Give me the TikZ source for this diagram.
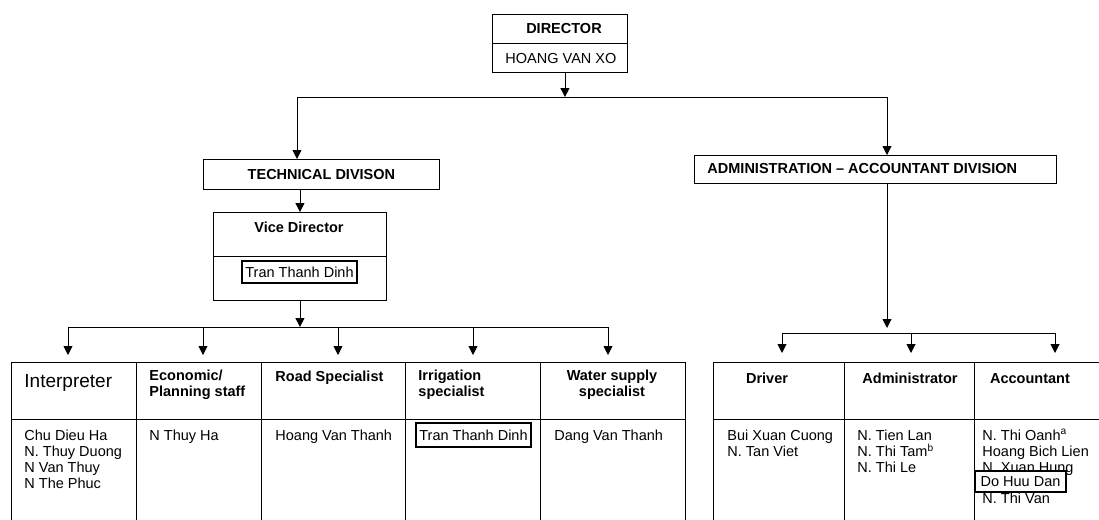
\documentclass[tikz,border=0pt]{standalone}
\usepackage{fontspec}
\setmainfont{Liberation Sans}
\usetikzlibrary{arrows.meta}

\begin{document}
\begin{tikzpicture}[
    x=1pt, y=-1pt,
    font=\fontsize{14.5}{16.3}\selectfont,
    every node/.style={inner sep=0pt},
    line width=0.9pt,
    cell/.style={draw, anchor=north west},
    hdr/.style={font=\fontsize{14.5}{16.3}\selectfont\bfseries},
    who/.style={anchor=base west},
    tagbox/.style={draw, line width=1.2pt, fill=white},
    arr/.style={-{Triangle[length=9pt,width=9pt]}},
]
\useasboundingbox (0,0) rectangle (1099,519);
\clip (0,0) rectangle (1099,519);

% ---- column x-coordinates ----
\def\xA{11}     % Interpreter
\def\xB{136}    % Economic / Planning
\def\xC{261}    % Road
\def\xD{405}    % Irrigation
\def\xE{540}    % Water supply
\def\xF{685}    % end of left table
\def\xG{713}    % Driver
\def\xH{844}    % Administrator
\def\xI{974}    % Accountant

% ---- row y-coordinates ----
\def\yt{362}    % table top
\def\ym{419}    % header / names divider
\def\ya{440}    % name line 1
\def\yb{456.3}  % name line 2
\def\yc{472.6}  % name line 3
\def\yd{488.9}  % name line 4
\def\ye{503.5}  % name line 5

% ---- director ----
\node[cell, minimum width=135pt, minimum height=29pt] (dirtop) at (492,14) {};
\node[cell, minimum width=135pt, minimum height=29pt] (dirbot) at (492,43) {};
\node[hdr] (dirlab) at (564,28.5) {DIRECTOR};
\node[anchor=west] (dirname) at (505,58.5) {HOANG VAN XO};

% ---- divisions ----
\node[cell, hdr, minimum width=236pt, minimum height=30pt] (tech) at (203,159) {TECHNICAL DIVISON};
\node[cell, minimum width=362pt, minimum height=28pt] (admin) at (694,155) {};
\node[hdr, anchor=west] (adminlab) at (707,169) {ADMINISTRATION – ACCOUNTANT DIVISION};

% ---- vice director ----
\node[cell, minimum width=173pt, minimum height=44pt] (vicetop) at (213,212) {};
\node[cell, minimum width=173pt, minimum height=44pt] (vicebot) at (213,256) {};
\node[hdr] (vicelab) at (299,227) {Vice Director};
\node[tagbox, minimum width=115pt, minimum height=22pt] (vicename) at (299.5,272) {Tran Thanh Dinh};

% ---- left table cells ----
\node[cell, minimum width=125pt, minimum height=57pt] (interp) at (\xA,\yt) {};
\node[cell, minimum width=125pt, minimum height=57pt] (econ)   at (\xB,\yt) {};
\node[cell, minimum width=144pt, minimum height=57pt] (road)   at (\xC,\yt) {};
\node[cell, minimum width=135pt, minimum height=57pt] (irrig)  at (\xD,\yt) {};
\node[cell, minimum width=145pt, minimum height=57pt] (water)  at (\xE,\yt) {};
\node[cell, minimum width=125pt, minimum height=130pt] (interpN) at (\xA,\ym) {};
\node[cell, minimum width=125pt, minimum height=130pt] (econN)   at (\xB,\ym) {};
\node[cell, minimum width=144pt, minimum height=130pt] (roadN)   at (\xC,\ym) {};
\node[cell, minimum width=135pt, minimum height=130pt] (irrigN)  at (\xD,\ym) {};
\node[cell, minimum width=145pt, minimum height=130pt] (waterN)  at (\xE,\ym) {};

% ---- right table cells ----
\node[cell, minimum width=131pt, minimum height=57pt] (driver) at (\xG,\yt) {};
\node[cell, minimum width=130pt, minimum height=57pt] (adm)    at (\xH,\yt) {};
\node[cell, minimum width=140pt, minimum height=57pt] (acc)    at (\xI,\yt) {};
\node[cell, minimum width=131pt, minimum height=130pt] (driverN) at (\xG,\ym) {};
\node[cell, minimum width=130pt, minimum height=130pt] (admN)    at (\xH,\ym) {};
\node[cell, minimum width=140pt, minimum height=130pt] (accN)    at (\xI,\ym) {};

% ---- left headers ----
\node[anchor=base west, font=\fontsize{19}{22}\selectfont] (interplab) at (24,387) {Interpreter};
\node[hdr, anchor=base west] (econlab1) at (149,380) {Economic/};
\node[hdr, anchor=base west] (econlab2) at (149,396.5) {Planning staff};
\node[hdr, anchor=base west] (roadlab) at (275,381) {Road Specialist};
\node[hdr, anchor=base west] (irriglab1) at (418,380) {Irrigation};
\node[hdr, anchor=base west] (irriglab2) at (418,396.5) {specialist};
\node[hdr, anchor=base] (waterlab1) at (612,380) {Water supply};
\node[hdr, anchor=base] (waterlab2) at (612,396.5) {specialist};

% ---- right headers ----
\node[hdr, anchor=base] (driverlab) at (767,383) {Driver};
\node[hdr, anchor=base] (admlab) at (910,383) {Administrator};
\node[hdr, anchor=base] (acclab) at (1030,383) {Accountant};

% ---- names, left table ----
\node[who] (n1) at (24,\ya) {Chu Dieu Ha};
\node[who] (n2) at (24,\yb) {N. Thuy Duong};
\node[who] (n3) at (24,\yc) {N Van Thuy};
\node[who] (n4) at (24,\yd) {N The Phuc};
\node[who] (n5) at (149,\ya) {N Thuy Ha};
\node[who] (n6) at (275,\ya) {Hoang Van Thanh};
\node[tagbox, minimum width=115pt, minimum height=24pt] (n7) at (473.5,435) {Tran Thanh Dinh};
\node[who] (n8) at (554,\ya) {Dang Van Thanh};

% ---- names, right table ----
\node[who] (m1) at (727,\ya) {Bui Xuan Cuong};
\node[who] (m2) at (727,\yb) {N. Tan Viet};
\node[who] (m3) at (857,\ya) {N. Tien Lan};
\node[who] (m4) at (857,\yb) {N. Thi Tam\textsuperscript{b}};
\node[who] (m5) at (857,\yc) {N. Thi Le};
\node[who] (m6) at (982,\ya) {N. Thi Oanh\textsuperscript{a}};
\node[who] (m7) at (982,\yb) {Hoang Bich Lien};
\node[who] (m8) at (982,\yc) {N. Xuan Hung};
\node[who] (m9) at (982,\ye) {N. Thi Van};
\node[tagbox, minimum width=91pt, minimum height=21pt] (m10) at (1020.5,481.5) {Do Huu Dan};

% ---- connectors, top ----
\coordinate (topL) at (297,97);
\coordinate (topR) at (887,97);
\coordinate (dirout) at ([xshift=5pt]dirbot.south);
\draw (topL) -- (topR);
\draw[arr] (dirout) -- (dirout |- topL);
\draw[arr] (topL) -- (topL |- tech.north);
\draw[arr] (topR) -- (topR |- admin.north);
\draw[arr] (tech.south -| vicetop.north) -- (vicetop.north);

% ---- connectors, technical staff ----
\coordinate (tbus1) at (68,327);
\coordinate (tbus2) at (203,327);
\coordinate (tbus3) at (338,327);
\coordinate (tbus4) at (473,327);
\coordinate (tbus5) at (608,327);
\draw (tbus1) -- (tbus5);
\draw[arr] (vicebot.south) -- (vicebot.south |- tbus1);
\draw[arr, shorten >=7pt] (tbus1) -- (tbus1 |- interp.north);
\draw[arr, shorten >=7pt] (tbus2) -- (tbus2 |- econ.north);
\draw[arr, shorten >=7pt] (tbus3) -- (tbus3 |- road.north);
\draw[arr, shorten >=7pt] (tbus4) -- (tbus4 |- irrig.north);
\draw[arr, shorten >=7pt] (tbus5) -- (tbus5 |- water.north);

% ---- connectors, administration staff ----
\coordinate (abus1) at (782,333);
\coordinate (abus2) at (911,333);
\coordinate (abus3) at (1055,333);
\draw (abus1) -- (abus3);
\draw[arr, shorten >=5pt] (admin.south -| topR) -- (topR |- abus1);
\draw[arr, shorten >=9pt] (abus1) -- (abus1 |- driver.north);
\draw[arr, shorten >=9pt] (abus2) -- (abus2 |- adm.north);
\draw[arr, shorten >=9pt] (abus3) -- (abus3 |- acc.north);

\end{tikzpicture}
\end{document}
